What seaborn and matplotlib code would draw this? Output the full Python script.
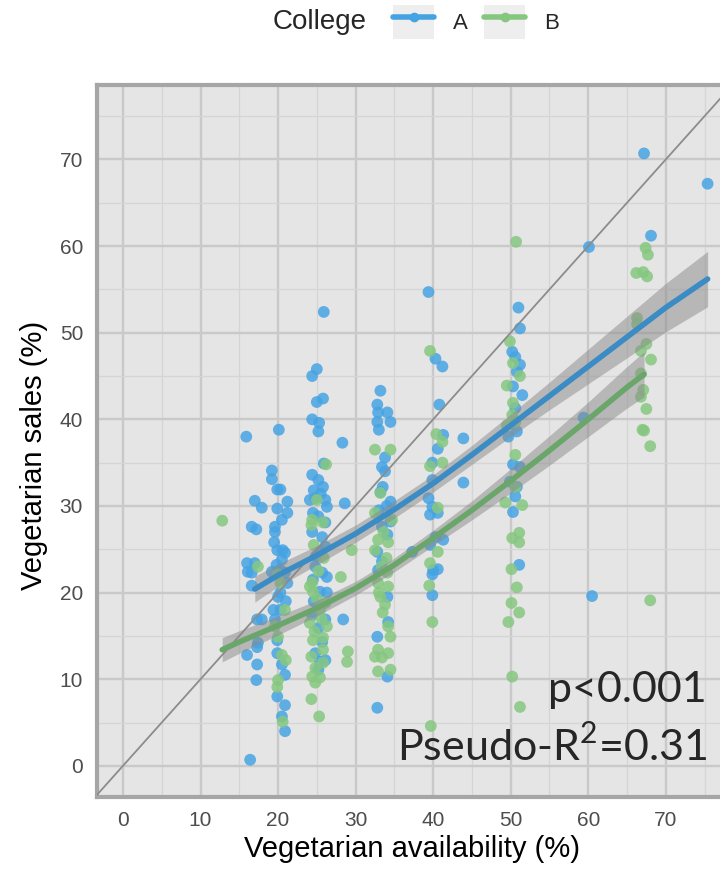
import pandas as pd
import seaborn as sns
import matplotlib.pyplot as plt
from matplotlib.patches import Patch
from matplotlib.lines import Line2D
from matplotlib.legend_handler import HandlerTuple

# ---------------- data ----------------
# College A
a_x = [15.9, 20.1, 19.2, 19.2, 19.9, 20.3, 17.0, 17.9, 21.2, 19.9, 21.2, 20.5, 16.6, 17.2, 19.6, 19.6,
       19.5, 19.9, 20.6, 20.9, 16.0, 17.0, 16.1, 16.6, 16.6, 19.2, 20.3, 20.9, 21.2, 20.0, 20.3, 17.3,
       17.9, 19.4, 20.3, 19.6, 17.4, 17.3, 19.9, 19.9, 16.0, 17.3, 20.5, 20.9, 17.2, 19.9, 20.9, 20.5,
       20.9, 16.4, 19.8, 20.5, 21.0,
       25.9, 25.0, 24.4, 25.0, 25.8, 24.4, 25.3, 25.2, 28.3, 25.9, 24.4, 25.2, 25.8, 24.1, 24.8, 26.1,
       26.3, 28.6, 24.5, 25.2, 26.1, 24.4, 25.7, 26.1, 24.8, 25.7, 26.3, 24.5, 25.4, 26.3, 24.4, 26.1,
       28.4, 25.2, 25.7, 24.8, 26.1, 25.4, 25.2, 24.6, 25.5, 24.9, 25.5, 24.6,
       33.2, 32.8, 32.9, 34.1, 34.5, 32.8, 33.0, 33.8, 33.4, 33.8, 33.5, 33.2, 34.5, 34.5, 33.4, 34.1,
       32.8, 33.4, 32.9, 34.1, 34.2, 32.8, 34.1, 32.8, 33.0, 34.0,
       39.4, 40.3, 41.2, 40.8, 41.3, 43.9, 40.6, 39.9, 39.9, 43.9, 39.4, 39.9, 39.6, 40.6, 40.3, 41.3,
       39.6, 37.3, 40.0, 40.6, 39.9, 39.9,
       51.0, 51.2, 50.2, 50.6, 51.2, 50.8, 50.3, 51.5, 50.6, 49.7, 50.8, 50.3, 51.2, 49.9, 50.8, 50.6,
       50.3, 51.1,
       67.2, 75.4, 68.1, 60.1, 59.4, 60.5]
a_y = [38.0, 38.8, 34.1, 33.1, 31.9, 31.9, 30.6, 29.8, 30.5, 29.7, 29.2, 28.4, 27.6, 27.3, 27.6, 27.0,
       25.8, 24.9, 24.9, 24.6, 23.4, 23.4, 22.4, 22.3, 20.8, 22.4, 22.6, 22.3, 21.1, 19.5, 20.0, 16.9,
       16.9, 18.0, 18.0, 16.9, 14.2, 13.7, 14.5, 13.0, 12.8, 11.7, 11.7, 10.5, 9.9, 8.0, 7.0, 5.7,
       4.0, 0.7, 23.2, 23.8, 19.0,
       52.4, 45.8, 45.0, 42.0, 42.4, 40.0, 39.6, 38.6, 37.3, 34.9, 33.6, 33.0, 32.2, 30.7, 30.9, 30.7,
       29.9, 30.3, 29.2, 28.8, 28.1, 27.0, 26.4, 25.3, 23.0, 22.3, 21.8, 21.5, 20.1, 20.0, 17.4, 16.9,
       16.9, 15.9, 14.3, 13.0, 12.2, 12.0, 11.1, 31.8, 31.4, 24.2, 24.8, 19.0,
       43.3, 41.7, 40.8, 40.8, 39.7, 39.7, 38.8, 35.6, 34.5, 34.0, 32.2, 31.6, 30.5, 28.2, 27.6, 26.7,
       24.7, 23.6, 22.6, 19.5, 16.6, 14.9, 10.3, 6.7, 29.5, 30.0,
       54.7, 47.0, 46.1, 41.7, 38.2, 37.8, 36.6, 35.0, 33.0, 32.7, 30.9, 29.9, 29.0, 29.2, 26.4, 26.1,
       25.5, 24.7, 22.6, 22.7, 22.1, 19.7,
       52.9, 50.5, 47.8, 47.2, 46.3, 45.5, 43.8, 42.8, 41.3, 38.0, 38.6, 34.8, 34.5, 32.8, 32.2, 31.1,
       29.3, 23.2,
       70.7, 67.2, 61.2, 59.9, 40.2, 19.6]

# College B
b_x = [12.8, 17.4, 20.0, 20.3, 20.9, 19.6, 20.0, 20.5, 21.0, 20.0, 19.9, 20.6,
       26.2, 25.0, 24.4, 24.3, 25.8, 29.5, 28.1, 24.4, 24.1, 24.5, 26.1, 25.4, 24.1, 26.3, 24.5, 25.8,
       25.8, 29.0, 24.3, 24.8, 25.8, 24.4, 24.8, 25.4, 24.3, 25.3, 28.9, 25.0, 25.6, 24.7, 25.2, 25.9,
       24.6,
       34.5, 32.5, 33.2, 32.5, 34.7, 32.9, 34.2, 32.5, 33.4, 34.1, 32.9, 34.2, 33.2, 33.8, 33.5, 34.2,
       34.5, 32.9, 34.2, 32.5, 33.4, 32.9, 34.5, 33.0, 34.0, 33.6,
       39.6, 40.4, 41.2, 39.6, 41.2, 40.6, 40.6, 39.6, 39.5, 39.9, 39.7,
       50.7, 49.9, 50.3, 51.2, 49.5, 50.3, 50.2, 49.5, 50.6, 50.6, 50.6, 49.3, 51.5, 50.2, 51.1, 51.1,
       50.1, 50.8, 50.1, 49.7, 51.1, 50.2, 51.2,
       67.4, 67.7, 66.2, 67.1, 67.6, 66.3, 66.3, 67.5, 66.8, 68.1, 66.8, 67.1, 66.8, 67.5, 67.0, 67.2,
       68.0, 68.0]
b_y = [28.3, 23.0, 22.1, 21.1, 18.0, 16.1, 14.9, 12.8, 12.2, 9.9, 9.1, 5.1,
       34.8, 30.7, 28.4, 27.8, 28.1, 24.9, 21.8, 21.2, 20.7, 20.1, 18.8, 18.0, 16.5, 16.1, 14.5, 14.8,
       13.4, 13.2, 12.6, 11.3, 11.9, 10.3, 9.6, 10.2, 7.7, 5.7, 12.0, 19.3, 17.0, 15.5, 22.5, 24.0,
       25.5,
       36.5, 36.5, 31.5, 29.2, 28.4, 26.1, 25.8, 24.9, 23.0, 22.3, 21.1, 20.7, 19.5, 18.6, 17.7, 16.1,
       14.9, 13.4, 13.0, 12.6, 12.5, 10.9, 11.1, 20.0, 24.0, 27.0,
       47.9, 38.3, 37.4, 34.6, 35.0, 29.8, 24.7, 23.4, 20.8, 16.6, 4.6,
       60.5, 49.0, 46.5, 45.0, 43.9, 41.9, 40.5, 39.3, 39.7, 35.9, 32.2, 30.4, 30.1, 26.3, 26.9, 25.8,
       22.7, 20.6, 18.8, 16.6, 17.7, 10.3, 6.8,
       59.8, 59.0, 56.9, 57.0, 56.5, 51.7, 51.0, 48.7, 47.9, 46.9, 45.3, 43.4, 42.6, 41.2, 38.8, 38.7,
       36.9, 19.1]

# fitted curves and their confidence bands
fit_a_x = [17, 20, 25, 30, 35, 40, 45, 50, 55, 60, 65, 70, 75.4]
fit_a_y = [20.4, 22.0, 24.3, 26.8, 29.6, 32.6, 35.9, 39.3, 42.7, 46.1, 49.5, 52.9, 56.2]
fit_a_se = [1.5, 1.3, 1.1, 1.0, 1.0, 1.0, 1.1, 1.3, 1.6, 2.0, 2.4, 2.8, 3.2]

fit_b_x = [12.8, 15, 20, 25, 30, 35, 40, 45, 50, 55, 60, 65, 67.2]
fit_b_y = [13.4, 14.3, 16.2, 18.2, 20.5, 23.2, 26.3, 29.5, 32.9, 36.4, 40.0, 43.7, 45.2]
fit_b_se = [1.4, 1.3, 1.1, 0.9, 0.8, 0.8, 0.9, 1.1, 1.4, 1.7, 2.0, 2.4, 2.6]

point_colors = {"A": "#46a3e3", "B": "#86c77f"}
line_colors = {"A": "#3b8bc4", "B": "#6aa66a"}

# ---------------- plot ----------------
sns.set_style("darkgrid", {"axes.facecolor": "#e5e5e5"})
plt.rcParams["font.family"] = ["Liberation Sans", "DejaVu Sans"]
plt.rcParams["mathtext.fontset"] = "custom"
plt.rcParams["mathtext.rm"] = "Lato"

fig = plt.figure(figsize=(7.2, 8.73), dpi=100)
ax = fig.add_axes([97 / 720, 76 / 873, 630 / 720, 712 / 873])

df = pd.DataFrame({
    "availability": a_x + b_x,
    "sales": a_y + b_y,
    "College": ["A"] * len(a_x) + ["B"] * len(b_x),
})
sns.scatterplot(data=df, x="availability", y="sales", hue="College", palette=point_colors,
                s=72, alpha=0.85, edgecolor="none", legend=False, ax=ax, zorder=2)

ax.axline((0, 0), slope=1, color="#8c8c8c", lw=1.3, zorder=3)

for key, fx, fy, se in [("A", fit_a_x, fit_a_y, fit_a_se), ("B", fit_b_x, fit_b_y, fit_b_se)]:
    lo = [y - s for y, s in zip(fy, se)]
    hi = [y + s for y, s in zip(fy, se)]
    ax.fill_between(fx, lo, hi, color="#8a8a8a", alpha=0.5, lw=0, zorder=4)
    sns.lineplot(x=fx, y=fy, color=line_colors[key], lw=4, ax=ax, zorder=5)

ax.set_xlim(-3.35, 77.9)
ax.set_ylim(-3.6, 78.6)
ax.set_xticks(range(0, 71, 10))
ax.set_xticks(range(5, 76, 10), minor=True)
ax.set_yticks(range(0, 71, 10))
ax.set_yticks(range(5, 76, 10), minor=True)
ax.grid(which="major", color="#c9c9c9", lw=1.7)
ax.grid(which="minor", color="#d5d5d5", lw=0.9)
ax.tick_params(which="major", axis="both", length=4, width=1, color="#333333",
               labelsize=15, labelcolor="#4d4d4d", pad=6)
ax.tick_params(which="minor", length=0)
for sp in ax.spines.values():
    sp.set_visible(True)
    sp.set_color("#a6a6a6")
    sp.set_linewidth(3)

ax.set_xlabel("Vegetarian availability (%)", fontsize=21, color="black", labelpad=4)
ax.set_ylabel("Vegetarian sales (%)", fontsize=21, color="black")
ax.yaxis.set_label_coords(-0.077, 0.48)

fig.text(0.982, 0.196, "p<0.001", ha="right", va="baseline", fontsize=31, family="Lato")
fig.text(0.982, 0.129, "Pseudo-R$^{2}$=0.31", ha="right", va="baseline", fontsize=31, family="Lato")

# legend on top
fig.text(0.379, 0.9748, "College", ha="left", va="center", fontsize=20)
handles = [(Patch(facecolor="#eeeeee", edgecolor="none"),
            Line2D([], [], color=point_colors[k], lw=4, marker="o", markersize=6)) for k in ["A", "B"]]
fig.legend(handles, ["A", "B"], loc="center left", bbox_to_anchor=(0.518, 0.9748), ncol=2,
           frameon=False, fontsize=16, handlelength=1.85, handleheight=1.95, handletextpad=0.86,
           columnspacing=0.72, handler_map={tuple: HandlerTuple(ndivide=1)})

fig.savefig("out.png", dpi=100)
